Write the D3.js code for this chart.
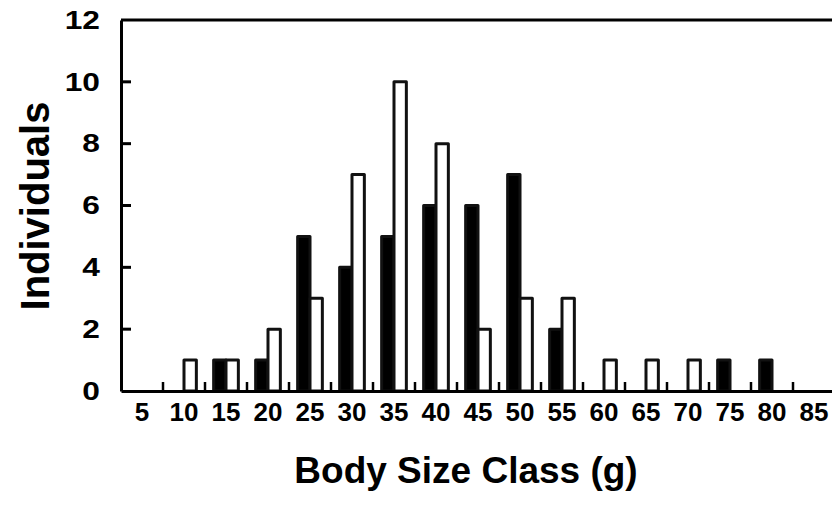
<!DOCTYPE html>
<html>
<head>
<meta charset="utf-8">
<script src="https://cdn.jsdelivr.net/npm/d3@7"></script>
<style>
    body { margin: 0; background: #fff; }
    text { font-family: "Liberation Sans", Arial, sans-serif; font-weight: bold; fill: #000; }
</style>
</head>
<body>
<div id="chart"></div>
<script>

// Data: individuals per body size class
var sizeClasses = ["5", "10", "15", "20", "25", "30", "35", "40", "45", "50", "55", "60", "65", "70", "75", "80", "85"];
var blackCounts = [0, 0, 1, 1, 5, 4, 5, 6, 6, 7, 2, 0, 0, 0, 1, 1, 0];
var whiteCounts = [0, 1, 1, 2, 3, 7, 10, 8, 2, 3, 3, 1, 1, 1, 0, 0, 0];
var yTicks = [0, 2, 4, 6, 8, 10, 12];
var seriesNames = ["black", "white"];

// Step 1: dimensions
var svgWidth = 832;
var svgHeight = 509;

var margin = {
    top: 20,
    left: 121,
    bottom: 118
};

var plotHeight = svgHeight - (margin.top + margin.bottom);
var bandStep = 42;

// Step 2: SVG
var svg = d3.select("#chart")
    .append("svg")
    .attr("width", svgWidth)
    .attr("height", svgHeight);

var chartGroup = svg.append("g")
    .attr("transform", `translate(${margin.left}, ${margin.top})`);

// Step 3: scales
var xScale = d3.scaleBand()
    .domain(sizeClasses)
    .range([0, bandStep * sizeClasses.length])
    .padding(0);

var xSub = d3.scaleBand()
    .domain(seriesNames)
    .range([0, xScale.bandwidth()])
    .paddingInner(0)
    .paddingOuter(0.7);

var yScale = d3.scaleLinear()
    .domain([0, 12])
    .range([plotHeight, 0]);

// Step 4: bars
var rows = sizeClasses.map(function(c, i) {
    return { cls: c, black: blackCounts[i], white: whiteCounts[i] };
});

var groups = chartGroup.selectAll(".cls")
    .data(rows)
    .enter()
    .append("g")
    .attr("transform", d => `translate(${xScale(d.cls)}, 0)`);

groups.selectAll("rect")
    .data(d => seriesNames.map(s => ({ key: s, value: d[s] })).filter(b => b.value > 0))
    .enter()
    .append("rect")
    .attr("x", d => xSub(d.key))
    .attr("y", d => yScale(d.value))
    .attr("width", xSub.bandwidth())
    .attr("height", d => plotHeight - yScale(d.value))
    .attr("fill", d => d.key == "black" ? "#000" : "#fff")
    .attr("stroke", "#111")
    .attr("stroke-width", 3)
    .attr("stroke-linejoin", "round");

// Step 5: axes
var bottomAxis = d3.axisBottom(xScale).tickSize(0).tickPadding(12);
var leftAxis = d3.axisLeft(yScale).tickValues(yTicks).tickSize(0);

var xAxisG = chartGroup.append("g")
    .attr("transform", `translate(0, ${plotHeight})`)
    .call(bottomAxis);
xAxisG.selectAll("text")
    .attr("font-family", null)
    .style("font-size", "26px");
xAxisG.select(".domain").attr("stroke-width", 3).attr("stroke", "#000");

// small tick marks between classes, pointing up
xAxisG.selectAll(".sep")
    .data(sizeClasses.slice(1))
    .enter()
    .append("line")
    .attr("x1", d => xScale(d))
    .attr("x2", d => xScale(d))
    .attr("y1", 0)
    .attr("y2", -9)
    .attr("stroke", "#000")
    .attr("stroke-width", 2.5);

// y labels in the picture are drawn wide, so stretch them
var yStretch = 1.22;
var yAxisG = chartGroup.append("g")
    .call(leftAxis);
yAxisG.selectAll("text")
    .attr("font-family", null)
    .attr("x", -21 / yStretch)
    .attr("transform", `scale(${yStretch}, 1)`)
    .style("font-size", "26px");
yAxisG.select(".domain").attr("stroke-width", 3).attr("stroke", "#000");

// inward tick marks on y
yAxisG.selectAll(".tk")
    .data(yTicks.slice(1, -1))
    .enter()
    .append("line")
    .attr("x1", 0)
    .attr("x2", 10)
    .attr("y1", d => yScale(d))
    .attr("y2", d => yScale(d))
    .attr("stroke", "#000")
    .attr("stroke-width", 3);

// top border of plot area
chartGroup.append("line")
    .attr("x1", 0)
    .attr("x2", svgWidth)
    .attr("y1", yScale(12))
    .attr("y2", yScale(12))
    .attr("stroke", "#000")
    .attr("stroke-width", 3);

// Step 6: titles
svg.append("text")
    .attr("x", 466)
    .attr("y", 483)
    .attr("text-anchor", "middle")
    .style("font-size", "37px")
    .text("Body Size Class (g)");

svg.append("text")
    .attr("transform", "translate(49, 206) rotate(-90)")
    .attr("text-anchor", "middle")
    .style("font-size", "40px")
    .text("Individuals");

</script>
</body>
</html>
